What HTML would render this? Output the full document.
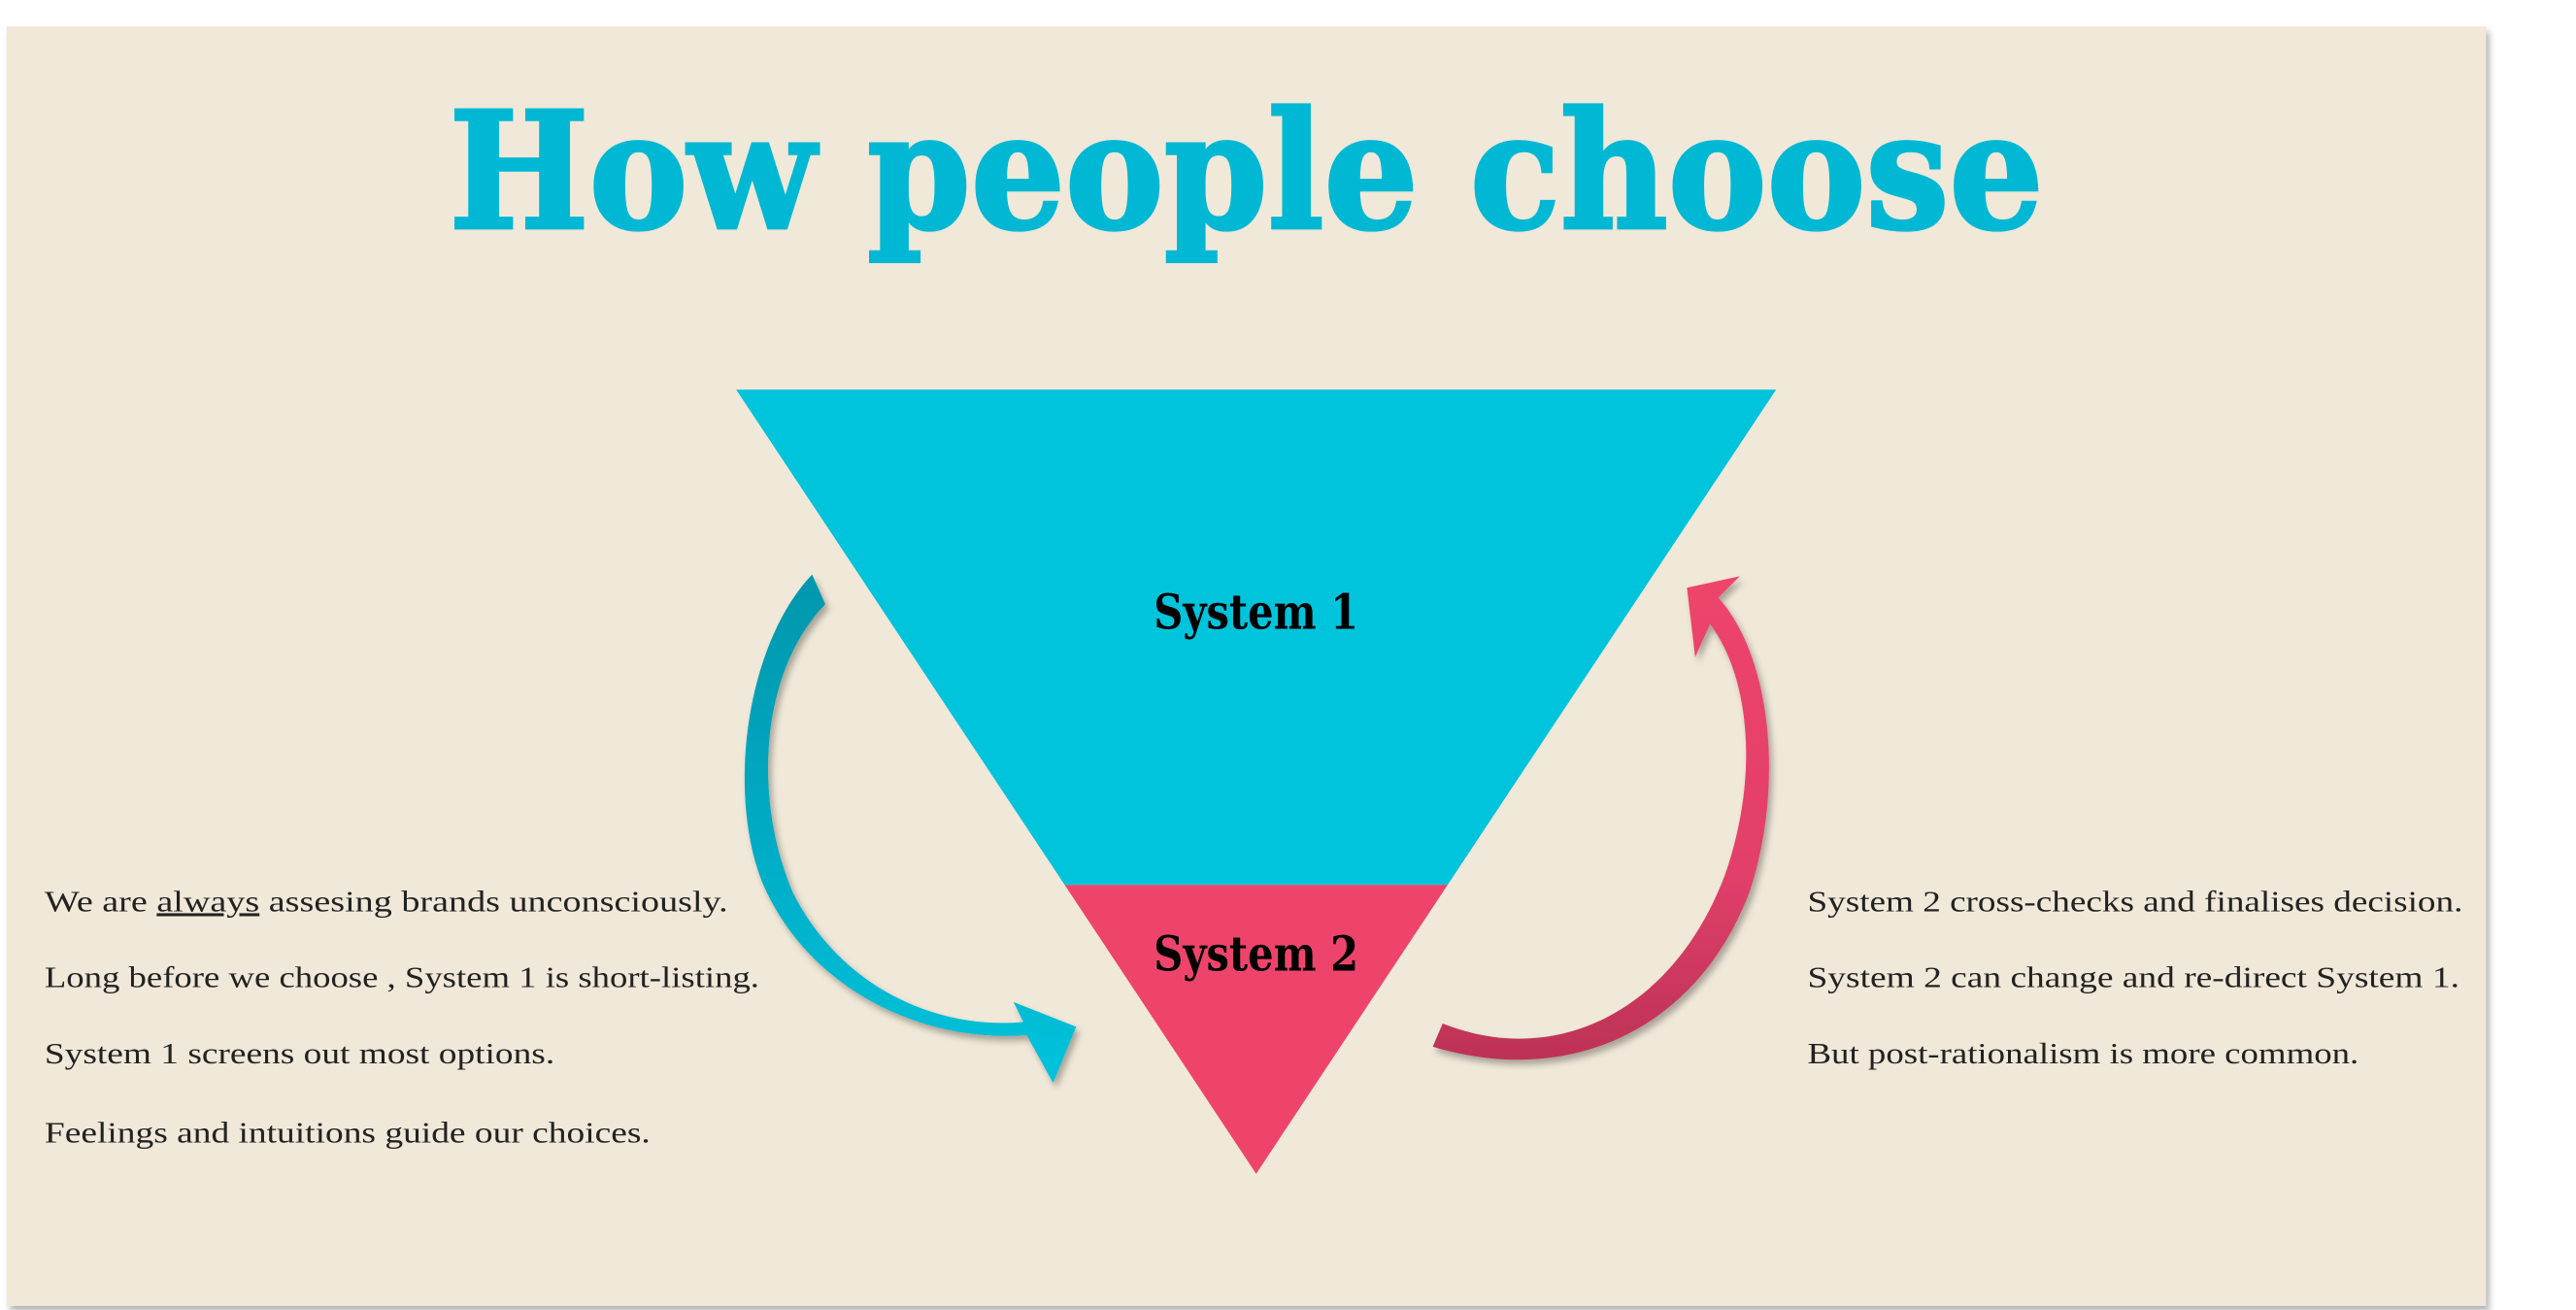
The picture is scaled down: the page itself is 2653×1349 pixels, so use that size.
<!DOCTYPE html>
<html><head><meta charset="utf-8"><style>
html,body{margin:0;padding:0;background:#fff;}
svg{display:block;}
</style></head><body>
<svg width="2653" height="1349" viewBox="0 0 1560.6 793.5" xmlns="http://www.w3.org/2000/svg">
<defs>
<linearGradient id="gc" x1="0" y1="0" x2="0" y2="1">
<stop offset="0" stop-color="#0597ad"/><stop offset="0.5" stop-color="#04aac3"/><stop offset="1" stop-color="#00c3dc"/>
</linearGradient>
<linearGradient id="gp" x1="0" y1="0" x2="0" y2="1">
<stop offset="0" stop-color="#ee446c"/><stop offset="0.6" stop-color="#e2406a"/><stop offset="1" stop-color="#bd3256"/>
</linearGradient>
<filter id="sh" x="-10%" y="-10%" width="130%" height="130%"><feDropShadow dx="2" dy="3" stdDeviation="2" flood-color="#000" flood-opacity="0.3"/></filter>
</defs>
<rect x="0" y="0" width="1560.6" height="793.5" fill="#fff"/>
<rect x="4" y="16" width="1502" height="775" fill="#f0e8d8" filter="url(#sh)"/>
<text x="755" y="138" text-anchor="middle" font-family="DejaVu Serif, Liberation Serif, serif" font-weight="bold" font-size="98" fill="#00b8d4" stroke="#00b8d4" stroke-width="2" textLength="966" lengthAdjust="spacingAndGlyphs">How people choose</text>
<polygon points="446,236 1076,236 877,536 645,536" fill="#00c3dc"/>
<polygon points="645,536 877,536 761,711" fill="#ee446c"/>
<text x="761" y="381" text-anchor="middle" font-family="DejaVu Serif, serif" font-weight="bold" font-size="29" fill="#000" textLength="124" lengthAdjust="spacingAndGlyphs">System 1</text>
<text x="761" y="588" text-anchor="middle" font-family="DejaVu Serif, serif" font-weight="bold" font-size="29" fill="#000" textLength="124" lengthAdjust="spacingAndGlyphs">System 2</text>
<path d="M492,348 C452,390 440,480 462,535 C490,600 560,632 622,627 L638,656 L652,622 L614,607 L620,619 C570,624 510,600 480,540 C455,480 462,405 500,366 Z" fill="url(#gc)" filter="url(#sh)"/>
<path d="M874,620 C945,648 1015,610 1045,530 C1066,470 1060,410 1036,378 L1027,398 L1022,356 L1054,349 L1041,362 C1075,400 1080,480 1060,540 C1030,620 955,660 868,634 Z" fill="url(#gp)" filter="url(#sh)"/>
<g font-family="Liberation Serif, serif" font-size="18" fill="#222">
<text x="27" y="552" textLength="414" lengthAdjust="spacingAndGlyphs">We are <tspan text-decoration="underline">always</tspan> assesing brands unconsciously.</text>
<text x="27" y="598" textLength="433" lengthAdjust="spacingAndGlyphs">Long before we choose , System 1 is short-listing.</text>
<text x="27" y="644" textLength="309" lengthAdjust="spacingAndGlyphs">System 1 screens out most options.</text>
<text x="27" y="692" textLength="367" lengthAdjust="spacingAndGlyphs">Feelings and intuitions guide our choices.</text>
<text x="1095" y="552" textLength="397" lengthAdjust="spacingAndGlyphs">System 2 cross-checks and finalises decision.</text>
<text x="1095" y="598" textLength="395" lengthAdjust="spacingAndGlyphs">System 2 can change and re-direct System 1.</text>
<text x="1095" y="644" textLength="334" lengthAdjust="spacingAndGlyphs">But post-rationalism is more common.</text>
</g>
</svg>
</body></html>
